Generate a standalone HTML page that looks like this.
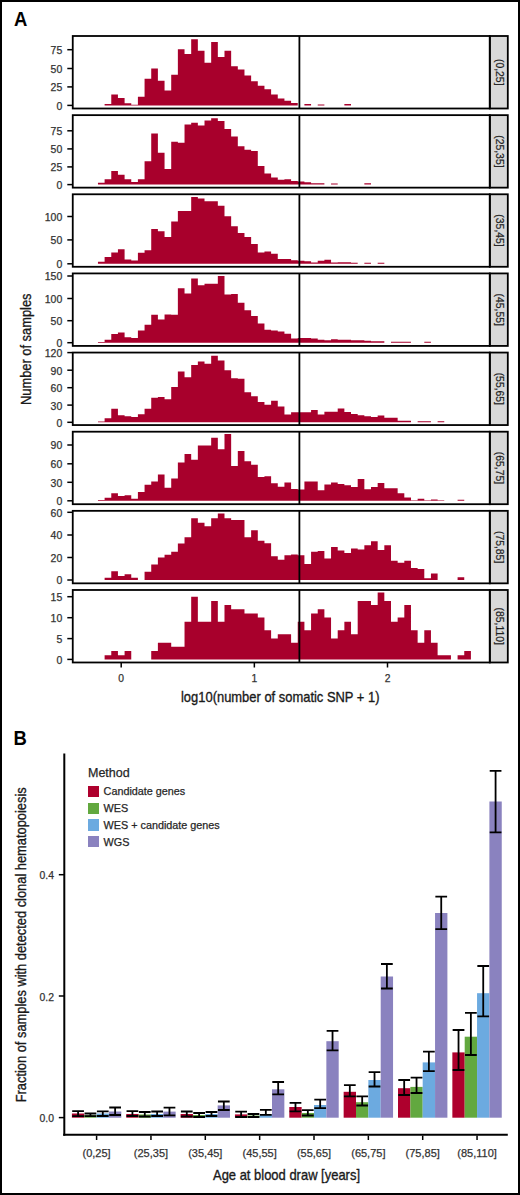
<!DOCTYPE html><html><head><meta charset="utf-8"><style>
html,body{margin:0;padding:0;background:#fff;}
#w{position:relative;width:520px;height:1195px;overflow:hidden;background:#fff;}
svg{position:absolute;left:0;top:0;}
text{font-family:"Liberation Sans",sans-serif;}
text{stroke:#333;stroke-width:0.25px;}
.t{stroke:#1a1a1a;stroke-width:0.35px;}
.nb{stroke:none;}
</style></head><body><div id="w">
<svg width="520" height="1195" viewBox="0 0 520 1195" shape-rendering="crispEdges">
<rect x="1" y="1" width="518" height="1193" fill="none" stroke="#000" stroke-width="2"/>
<text transform="translate(13.9,25.9) scale(0.88,1)" class="nb" font-size="21" font-weight="bold" fill="#000">A</text>
<text transform="translate(13.5,745) scale(0.88,1)" class="nb" font-size="21" font-weight="bold" fill="#000">B</text>
<path d="M104.61 105.40V103.90H111.27V94.50H117.93V98.00H124.59V103.30H131.25V104.70H137.91V96.80H144.57V78.80H151.23V68.50H157.89V80.70H164.55V90.40H171.21V74.70H177.87V49.30H184.53V53.90H191.19V39.20H197.85V50.70H204.51V62.70H211.17V41.90H217.83V56.90H224.49V50.70H231.15V66.20H237.81V69.60H244.47V75.40H251.13V81.20H257.79V85.80H264.45V89.20H271.11V94.50H277.77V98.50H284.43V100.80H291.09V103.00H297.75V105.40ZM304.41 105.40V103.90H311.07V105.40ZM317.73 105.40V104.40H324.39V105.40ZM344.37 105.40V103.90H351.03V105.40Z" fill="#a8002c" shape-rendering="auto"/>
<line x1="299.4" y1="36.00" x2="299.4" y2="108.50" stroke="#000" stroke-width="1.8" shape-rendering="auto"/>
<rect x="489.8" y="36.00" width="18" height="72.50" fill="#d9d9d9" stroke="#000" stroke-width="1.8" shape-rendering="auto"/>
<rect x="72.75" y="36.00" width="417.05" height="72.50" fill="none" stroke="#000" stroke-width="1.8" shape-rendering="auto"/>
<text transform="translate(495.9,72.25) rotate(90)" font-size="10.4" text-anchor="middle" fill="#1a1a1a">(0,25]</text>
<line x1="67.3" y1="105.40" x2="72" y2="105.40" stroke="#000" stroke-width="1.5" shape-rendering="auto"/>
<text x="62.3" y="109.80" font-size="10.5" text-anchor="end" fill="#333333">0</text>
<line x1="67.3" y1="86.90" x2="72" y2="86.90" stroke="#000" stroke-width="1.5" shape-rendering="auto"/>
<text x="62.3" y="91.30" font-size="10.5" text-anchor="end" fill="#333333">25</text>
<line x1="67.3" y1="68.50" x2="72" y2="68.50" stroke="#000" stroke-width="1.5" shape-rendering="auto"/>
<text x="62.3" y="72.90" font-size="10.5" text-anchor="end" fill="#333333">50</text>
<line x1="67.3" y1="49.70" x2="72" y2="49.70" stroke="#000" stroke-width="1.5" shape-rendering="auto"/>
<text x="62.3" y="54.10" font-size="10.5" text-anchor="end" fill="#333333">75</text>
<path d="M97.95 184.60V182.80H104.61V179.30H111.27V171.00H117.93V174.70H124.59V179.30H131.25V182.00H137.91V179.30H144.57V161.30H151.23V133.60H157.89V152.80H164.55V168.90H171.21V141.70H177.87V142.80H184.53V124.40H191.19V122.80H197.85V125.50H204.51V120.50H211.17V118.20H217.83V120.90H224.49V129.00H231.15V136.60H237.81V146.30H244.47V149.80H251.13V150.90H257.79V165.90H264.45V173.50H271.11V177.50H277.77V179.80H284.43V179.30H291.09V180.90H297.75V181.60H304.41V182.30H311.07V183.20H317.73V183.20H324.39V184.60ZM331.05 184.60V183.60H337.71V184.60ZM364.35 184.60V183.20H371.01V184.60Z" fill="#a8002c" shape-rendering="auto"/>
<line x1="299.4" y1="115.14" x2="299.4" y2="187.64" stroke="#000" stroke-width="1.8" shape-rendering="auto"/>
<rect x="489.8" y="115.14" width="18" height="72.50" fill="#d9d9d9" stroke="#000" stroke-width="1.8" shape-rendering="auto"/>
<rect x="72.75" y="115.14" width="417.05" height="72.50" fill="none" stroke="#000" stroke-width="1.8" shape-rendering="auto"/>
<text transform="translate(495.9,151.39) rotate(90)" font-size="10.4" text-anchor="middle" fill="#1a1a1a">(25,35]</text>
<line x1="67.3" y1="184.60" x2="72" y2="184.60" stroke="#000" stroke-width="1.5" shape-rendering="auto"/>
<text x="62.3" y="189.00" font-size="10.5" text-anchor="end" fill="#333333">0</text>
<line x1="67.3" y1="166.90" x2="72" y2="166.90" stroke="#000" stroke-width="1.5" shape-rendering="auto"/>
<text x="62.3" y="171.30" font-size="10.5" text-anchor="end" fill="#333333">25</text>
<line x1="67.3" y1="148.90" x2="72" y2="148.90" stroke="#000" stroke-width="1.5" shape-rendering="auto"/>
<text x="62.3" y="153.30" font-size="10.5" text-anchor="end" fill="#333333">50</text>
<line x1="67.3" y1="130.80" x2="72" y2="130.80" stroke="#000" stroke-width="1.5" shape-rendering="auto"/>
<text x="62.3" y="135.20" font-size="10.5" text-anchor="end" fill="#333333">75</text>
<path d="M97.95 263.80V261.70H104.61V257.00H111.27V252.50H117.93V249.20H124.59V259.40H131.25V260.50H137.91V252.70H144.57V250.20H151.23V228.90H157.89V231.20H164.55V237.00H171.21V221.50H177.87V210.90H184.53V210.90H191.19V197.10H197.85V198.50H204.51V201.20H211.17V201.20H217.83V205.80H224.49V216.20H231.15V226.20H237.81V233.10H244.47V237.00H251.13V243.90H257.79V252.50H264.45V251.50H271.11V253.80H277.77V258.90H284.43V258.90H291.09V260.30H297.75V260.80H304.41V261.20H311.07V262.40H317.73V260.80H324.39V259.80H331.05V262.40H337.71V262.30H344.37V262.30H351.03V262.80H357.69V263.80ZM364.35 263.80V262.80H371.01V263.80ZM377.67 263.80V262.80H384.33V263.80Z" fill="#a8002c" shape-rendering="auto"/>
<line x1="299.4" y1="194.28" x2="299.4" y2="266.78" stroke="#000" stroke-width="1.8" shape-rendering="auto"/>
<rect x="489.8" y="194.28" width="18" height="72.50" fill="#d9d9d9" stroke="#000" stroke-width="1.8" shape-rendering="auto"/>
<rect x="72.75" y="194.28" width="417.05" height="72.50" fill="none" stroke="#000" stroke-width="1.8" shape-rendering="auto"/>
<text transform="translate(495.9,230.53) rotate(90)" font-size="10.4" text-anchor="middle" fill="#1a1a1a">(35,45]</text>
<line x1="67.3" y1="263.80" x2="72" y2="263.80" stroke="#000" stroke-width="1.5" shape-rendering="auto"/>
<text x="62.3" y="268.20" font-size="10.5" text-anchor="end" fill="#333333">0</text>
<line x1="67.3" y1="239.90" x2="72" y2="239.90" stroke="#000" stroke-width="1.5" shape-rendering="auto"/>
<text x="62.3" y="244.30" font-size="10.5" text-anchor="end" fill="#333333">50</text>
<line x1="67.3" y1="216.50" x2="72" y2="216.50" stroke="#000" stroke-width="1.5" shape-rendering="auto"/>
<text x="62.3" y="220.90" font-size="10.5" text-anchor="end" fill="#333333">100</text>
<path d="M97.95 342.70V342.00H104.61V339.80H111.27V334.00H117.93V332.60H124.59V337.20H131.25V337.90H137.91V330.50H144.57V324.80H151.23V314.80H157.89V319.50H164.55V314.40H171.21V314.80H177.87V288.30H184.53V293.40H191.19V278.60H197.85V285.30H204.51V283.70H211.17V283.70H217.83V276.10H224.49V294.50H231.15V294.10H237.81V302.80H244.47V310.20H251.13V316.00H257.79V323.60H264.45V329.80H271.11V330.50H277.77V331.50H284.43V333.80H291.09V338.60H297.75V337.90H304.41V337.90H311.07V338.60H317.73V339.80H324.39V340.20H331.05V339.30H337.71V339.70H344.37V339.70H351.03V340.20H357.69V340.20H364.35V340.70H371.01V341.20H377.67V341.20H384.33V342.70ZM390.99 342.70V341.70H397.65V341.70H404.31V341.70H410.97V342.70ZM424.29 342.70V341.70H430.95V342.70Z" fill="#a8002c" shape-rendering="auto"/>
<line x1="299.4" y1="273.42" x2="299.4" y2="345.92" stroke="#000" stroke-width="1.8" shape-rendering="auto"/>
<rect x="489.8" y="273.42" width="18" height="72.50" fill="#d9d9d9" stroke="#000" stroke-width="1.8" shape-rendering="auto"/>
<rect x="72.75" y="273.42" width="417.05" height="72.50" fill="none" stroke="#000" stroke-width="1.8" shape-rendering="auto"/>
<text transform="translate(495.9,309.67) rotate(90)" font-size="10.4" text-anchor="middle" fill="#1a1a1a">(45,55]</text>
<line x1="67.3" y1="342.70" x2="72" y2="342.70" stroke="#000" stroke-width="1.5" shape-rendering="auto"/>
<text x="62.3" y="347.10" font-size="10.5" text-anchor="end" fill="#333333">0</text>
<line x1="67.3" y1="320.70" x2="72" y2="320.70" stroke="#000" stroke-width="1.5" shape-rendering="auto"/>
<text x="62.3" y="325.10" font-size="10.5" text-anchor="end" fill="#333333">50</text>
<line x1="67.3" y1="298.50" x2="72" y2="298.50" stroke="#000" stroke-width="1.5" shape-rendering="auto"/>
<text x="62.3" y="302.90" font-size="10.5" text-anchor="end" fill="#333333">100</text>
<line x1="67.3" y1="276.00" x2="72" y2="276.00" stroke="#000" stroke-width="1.5" shape-rendering="auto"/>
<text x="62.3" y="280.40" font-size="10.5" text-anchor="end" fill="#333333">150</text>
<path d="M97.95 422.30V421.60H104.61V418.30H111.27V408.80H117.93V415.30H124.59V416.20H131.25V417.00H137.91V414.20H144.57V408.80H151.23V397.80H157.89V397.10H164.55V399.20H171.21V386.90H177.87V371.50H184.53V377.20H191.19V365.00H197.85V361.50H204.51V363.80H211.17V355.80H217.83V360.40H224.49V370.30H231.15V378.20H237.81V378.80H244.47V392.20H251.13V396.20H257.79V401.90H264.45V404.70H271.11V400.80H277.77V406.50H284.43V414.60H291.09V412.30H297.75V412.30H304.41V412.30H311.07V410.00H317.73V414.60H324.39V411.80H331.05V411.80H337.71V408.50H344.37V412.00H351.03V414.00H357.69V415.20H364.35V416.20H371.01V417.00H377.67V415.50H384.33V417.70H390.99V417.70H397.65V420.80H404.31V420.80H410.97V422.30ZM417.63 422.30V421.30H424.29V421.30H430.95V422.30ZM437.61 422.30V421.30H444.27V422.30Z" fill="#a8002c" shape-rendering="auto"/>
<line x1="299.4" y1="352.56" x2="299.4" y2="425.06" stroke="#000" stroke-width="1.8" shape-rendering="auto"/>
<rect x="489.8" y="352.56" width="18" height="72.50" fill="#d9d9d9" stroke="#000" stroke-width="1.8" shape-rendering="auto"/>
<rect x="72.75" y="352.56" width="417.05" height="72.50" fill="none" stroke="#000" stroke-width="1.8" shape-rendering="auto"/>
<text transform="translate(495.9,388.81) rotate(90)" font-size="10.4" text-anchor="middle" fill="#1a1a1a">(55,65]</text>
<line x1="67.3" y1="422.30" x2="72" y2="422.30" stroke="#000" stroke-width="1.5" shape-rendering="auto"/>
<text x="62.3" y="426.70" font-size="10.5" text-anchor="end" fill="#333333">0</text>
<line x1="67.3" y1="405.10" x2="72" y2="405.10" stroke="#000" stroke-width="1.5" shape-rendering="auto"/>
<text x="62.3" y="409.50" font-size="10.5" text-anchor="end" fill="#333333">30</text>
<line x1="67.3" y1="387.70" x2="72" y2="387.70" stroke="#000" stroke-width="1.5" shape-rendering="auto"/>
<text x="62.3" y="392.10" font-size="10.5" text-anchor="end" fill="#333333">60</text>
<line x1="67.3" y1="370.20" x2="72" y2="370.20" stroke="#000" stroke-width="1.5" shape-rendering="auto"/>
<text x="62.3" y="374.60" font-size="10.5" text-anchor="end" fill="#333333">90</text>
<line x1="67.3" y1="352.60" x2="72" y2="352.60" stroke="#000" stroke-width="1.5" shape-rendering="auto"/>
<text x="62.3" y="357.00" font-size="10.5" text-anchor="end" fill="#333333">120</text>
<path d="M97.95 500.80V500.10H104.61V497.80H111.27V493.20H117.93V495.90H124.59V495.20H131.25V498.70H137.91V492.00H144.57V484.80H151.23V481.60H157.89V474.50H164.55V487.80H171.21V478.60H177.87V462.50H184.53V453.90H191.19V459.70H197.85V445.60H204.51V445.60H211.17V437.80H217.83V449.30H224.49V434.10H231.15V465.90H237.81V450.90H244.47V461.30H251.13V464.80H257.79V477.00H264.45V476.30H271.11V483.20H277.77V486.70H284.43V482.50H291.09V489.00H297.75V489.50H304.41V481.60H311.07V481.60H317.73V490.20H324.39V484.40H331.05V482.50H337.71V484.00H344.37V485.20H351.03V487.00H357.69V479.00H364.35V489.20H371.01V487.00H377.67V483.00H384.33V488.30H390.99V488.30H397.65V493.20H404.31V497.50H410.97V500.20H417.63V498.80H424.29V500.20H430.95V499.60H437.61V500.20H444.27V500.80ZM457.59 500.80V499.80H464.25V500.80Z" fill="#a8002c" shape-rendering="auto"/>
<line x1="299.4" y1="431.70" x2="299.4" y2="504.20" stroke="#000" stroke-width="1.8" shape-rendering="auto"/>
<rect x="489.8" y="431.70" width="18" height="72.50" fill="#d9d9d9" stroke="#000" stroke-width="1.8" shape-rendering="auto"/>
<rect x="72.75" y="431.70" width="417.05" height="72.50" fill="none" stroke="#000" stroke-width="1.8" shape-rendering="auto"/>
<text transform="translate(495.9,467.95) rotate(90)" font-size="10.4" text-anchor="middle" fill="#1a1a1a">(65,75]</text>
<line x1="67.3" y1="500.80" x2="72" y2="500.80" stroke="#000" stroke-width="1.5" shape-rendering="auto"/>
<text x="62.3" y="505.20" font-size="10.5" text-anchor="end" fill="#333333">0</text>
<line x1="67.3" y1="482.30" x2="72" y2="482.30" stroke="#000" stroke-width="1.5" shape-rendering="auto"/>
<text x="62.3" y="486.70" font-size="10.5" text-anchor="end" fill="#333333">30</text>
<line x1="67.3" y1="463.80" x2="72" y2="463.80" stroke="#000" stroke-width="1.5" shape-rendering="auto"/>
<text x="62.3" y="468.20" font-size="10.5" text-anchor="end" fill="#333333">60</text>
<line x1="67.3" y1="445.00" x2="72" y2="445.00" stroke="#000" stroke-width="1.5" shape-rendering="auto"/>
<text x="62.3" y="449.40" font-size="10.5" text-anchor="end" fill="#333333">90</text>
<path d="M104.61 580.00V577.80H111.27V571.30H117.93V575.90H124.59V574.30H131.25V577.80H137.91V580.00ZM144.57 580.00V571.80H151.23V564.40H157.89V557.50H164.55V554.70H171.21V551.70H177.87V543.60H184.53V537.20H191.19V518.20H197.85V522.80H204.51V526.30H211.17V518.20H217.83V513.60H224.49V518.20H231.15V520.10H237.81V520.10H244.47V537.20H251.13V530.20H257.79V540.80H264.45V543.20H271.11V556.30H277.77V559.80H284.43V555.20H291.09V554.50H297.75V555.20H304.41V563.90H311.07V551.70H317.73V551.00H324.39V558.60H331.05V547.10H337.71V550.50H344.37V553.00H351.03V548.40H357.69V549.60H364.35V545.30H371.01V541.30H377.67V549.90H384.33V545.30H390.99V560.70H397.65V562.80H404.31V560.70H410.97V568.10H417.63V569.00H424.29V578.20H430.95V573.60H437.61V580.00ZM457.59 580.00V577.30H464.25V580.00Z" fill="#a8002c" shape-rendering="auto"/>
<line x1="299.4" y1="510.84" x2="299.4" y2="583.34" stroke="#000" stroke-width="1.8" shape-rendering="auto"/>
<rect x="489.8" y="510.84" width="18" height="72.50" fill="#d9d9d9" stroke="#000" stroke-width="1.8" shape-rendering="auto"/>
<rect x="72.75" y="510.84" width="417.05" height="72.50" fill="none" stroke="#000" stroke-width="1.8" shape-rendering="auto"/>
<text transform="translate(495.9,547.09) rotate(90)" font-size="10.4" text-anchor="middle" fill="#1a1a1a">(75,85]</text>
<line x1="67.3" y1="580.00" x2="72" y2="580.00" stroke="#000" stroke-width="1.5" shape-rendering="auto"/>
<text x="62.3" y="584.40" font-size="10.5" text-anchor="end" fill="#333333">0</text>
<line x1="67.3" y1="557.50" x2="72" y2="557.50" stroke="#000" stroke-width="1.5" shape-rendering="auto"/>
<text x="62.3" y="561.90" font-size="10.5" text-anchor="end" fill="#333333">20</text>
<line x1="67.3" y1="535.00" x2="72" y2="535.00" stroke="#000" stroke-width="1.5" shape-rendering="auto"/>
<text x="62.3" y="539.40" font-size="10.5" text-anchor="end" fill="#333333">40</text>
<line x1="67.3" y1="512.30" x2="72" y2="512.30" stroke="#000" stroke-width="1.5" shape-rendering="auto"/>
<text x="62.3" y="516.70" font-size="10.5" text-anchor="end" fill="#333333">60</text>
<path d="M104.61 659.40V655.22H111.27V651.04H117.93V655.22H124.59V651.04H131.25V659.40ZM151.23 659.40V651.04H157.89V642.68H164.55V642.68H171.21V646.86H177.87V646.86H184.53V621.78H191.19V596.70H197.85V621.78H204.51V621.78H211.17V600.88H217.83V621.78H224.49V605.06H231.15V609.24H237.81V609.24H244.47V613.42H251.13V613.42H257.79V617.60H264.45V630.14H271.11V638.50H277.77V634.32H284.43V634.32H291.09V642.68H297.75V621.78H304.41V630.14H311.07V613.42H317.73V609.24H324.39V617.60H331.05V638.50H337.71V630.14H344.37V621.78H351.03V634.32H357.69V600.88H364.35V600.88H371.01V605.06H377.67V592.52H384.33V600.88H390.99V621.78H397.65V617.60H404.31V605.06H410.97V630.14H417.63V642.68H424.29V630.14H430.95V642.68H437.61V655.22H444.27V655.22H450.93V659.40ZM457.59 659.40V655.22H464.25V651.04H470.91V659.40Z" fill="#a8002c" shape-rendering="auto"/>
<line x1="299.4" y1="589.98" x2="299.4" y2="662.48" stroke="#000" stroke-width="1.8" shape-rendering="auto"/>
<rect x="489.8" y="589.98" width="18" height="72.50" fill="#d9d9d9" stroke="#000" stroke-width="1.8" shape-rendering="auto"/>
<rect x="72.75" y="589.98" width="417.05" height="72.50" fill="none" stroke="#000" stroke-width="1.8" shape-rendering="auto"/>
<text transform="translate(495.9,626.23) rotate(90)" font-size="10.4" text-anchor="middle" fill="#1a1a1a">(85,110]</text>
<line x1="67.3" y1="659.40" x2="72" y2="659.40" stroke="#000" stroke-width="1.5" shape-rendering="auto"/>
<text x="62.3" y="663.80" font-size="10.5" text-anchor="end" fill="#333333">0</text>
<line x1="67.3" y1="638.60" x2="72" y2="638.60" stroke="#000" stroke-width="1.5" shape-rendering="auto"/>
<text x="62.3" y="643.00" font-size="10.5" text-anchor="end" fill="#333333">5</text>
<line x1="67.3" y1="617.70" x2="72" y2="617.70" stroke="#000" stroke-width="1.5" shape-rendering="auto"/>
<text x="62.3" y="622.10" font-size="10.5" text-anchor="end" fill="#333333">10</text>
<line x1="67.3" y1="596.70" x2="72" y2="596.70" stroke="#000" stroke-width="1.5" shape-rendering="auto"/>
<text x="62.3" y="601.10" font-size="10.5" text-anchor="end" fill="#333333">15</text>
<line x1="121.2" y1="663" x2="121.2" y2="667.5" stroke="#000" stroke-width="1.5" shape-rendering="auto"/>
<text x="121.2" y="681.7" font-size="10.3" text-anchor="middle" fill="#333333">0</text>
<line x1="254.35" y1="663" x2="254.35" y2="667.5" stroke="#000" stroke-width="1.5" shape-rendering="auto"/>
<text x="254.35" y="681.7" font-size="10.3" text-anchor="middle" fill="#333333">1</text>
<line x1="387.5" y1="663" x2="387.5" y2="667.5" stroke="#000" stroke-width="1.5" shape-rendering="auto"/>
<text x="387.5" y="681.7" font-size="10.3" text-anchor="middle" fill="#333333">2</text>
<text class="t" x="181" y="701.8" font-size="14.5" textLength="198.5" lengthAdjust="spacingAndGlyphs" fill="#1a1a1a">log10(number of somatic SNP + 1)</text>
<text class="t" transform="translate(30.8,405) rotate(-90)" font-size="15" textLength="111.5" lengthAdjust="spacingAndGlyphs" fill="#1a1a1a">Number of samples</text>
<line x1="64.3" y1="753.5" x2="64.3" y2="1135.8" stroke="#000" stroke-width="2" shape-rendering="auto"/>
<line x1="63.2" y1="1134.8" x2="507.8" y2="1134.8" stroke="#000" stroke-width="2" shape-rendering="auto"/>
<line x1="58.8" y1="1117.6" x2="64" y2="1117.6" stroke="#000" stroke-width="1.5" shape-rendering="auto"/>
<text x="54.0" y="1122.2" font-size="10.4" text-anchor="end" fill="#333333">0.0</text>
<line x1="58.8" y1="996.0" x2="64" y2="996.0" stroke="#000" stroke-width="1.5" shape-rendering="auto"/>
<text x="54.0" y="1000.6" font-size="10.4" text-anchor="end" fill="#333333">0.2</text>
<line x1="58.8" y1="874.7" x2="64" y2="874.7" stroke="#000" stroke-width="1.5" shape-rendering="auto"/>
<text x="54.0" y="879.3" font-size="10.4" text-anchor="end" fill="#333333">0.4</text>
<line x1="96.60" y1="1135.6" x2="96.60" y2="1140" stroke="#000" stroke-width="1.5" shape-rendering="auto"/>
<text x="96.60" y="1157.3" font-size="11" text-anchor="middle" fill="#333333">(0,25]</text>
<rect x="71.90" y="1113.50" width="12.35" height="4.20" fill="#ae002d" shape-rendering="auto"/>
<rect x="84.25" y="1115.00" width="12.35" height="2.70" fill="#62a83f" shape-rendering="auto"/>
<rect x="96.60" y="1113.50" width="12.35" height="4.20" fill="#6caae0" shape-rendering="auto"/>
<rect x="108.95" y="1111.50" width="12.35" height="6.20" fill="#8a82bf" shape-rendering="auto"/>
<path d="M72.20 1111.10H83.95M78.08 1111.10V1116.10M72.20 1116.10H83.95" stroke="#000" stroke-width="1.8" fill="none" shape-rendering="auto"/>
<path d="M84.55 1113.50H96.30M90.42 1113.50V1116.10M84.55 1116.10H96.30" stroke="#000" stroke-width="1.8" fill="none" shape-rendering="auto"/>
<path d="M96.90 1111.30H108.65M102.78 1111.30V1116.00M96.90 1116.00H108.65" stroke="#000" stroke-width="1.8" fill="none" shape-rendering="auto"/>
<path d="M109.25 1107.50H121.00M115.12 1107.50V1115.00M109.25 1115.00H121.00" stroke="#000" stroke-width="1.8" fill="none" shape-rendering="auto"/>
<line x1="150.95" y1="1135.6" x2="150.95" y2="1140" stroke="#000" stroke-width="1.5" shape-rendering="auto"/>
<text x="150.95" y="1157.3" font-size="11" text-anchor="middle" fill="#333333">(25,35]</text>
<rect x="126.25" y="1114.00" width="12.35" height="3.70" fill="#ae002d" shape-rendering="auto"/>
<rect x="138.60" y="1114.50" width="12.35" height="3.20" fill="#62a83f" shape-rendering="auto"/>
<rect x="150.95" y="1114.00" width="12.35" height="3.70" fill="#6caae0" shape-rendering="auto"/>
<rect x="163.30" y="1111.60" width="12.35" height="6.10" fill="#8a82bf" shape-rendering="auto"/>
<path d="M126.55 1111.20H138.30M132.43 1111.20V1116.00M126.55 1116.00H138.30" stroke="#000" stroke-width="1.8" fill="none" shape-rendering="auto"/>
<path d="M138.90 1112.00H150.65M144.78 1112.00V1116.50M138.90 1116.50H150.65" stroke="#000" stroke-width="1.8" fill="none" shape-rendering="auto"/>
<path d="M151.25 1111.50H163.00M157.12 1111.50V1116.00M151.25 1116.00H163.00" stroke="#000" stroke-width="1.8" fill="none" shape-rendering="auto"/>
<path d="M163.60 1107.70H175.35M169.48 1107.70V1115.30M163.60 1115.30H175.35" stroke="#000" stroke-width="1.8" fill="none" shape-rendering="auto"/>
<line x1="205.30" y1="1135.6" x2="205.30" y2="1140" stroke="#000" stroke-width="1.5" shape-rendering="auto"/>
<text x="205.30" y="1157.3" font-size="11" text-anchor="middle" fill="#333333">(35,45]</text>
<rect x="180.60" y="1114.00" width="12.35" height="3.70" fill="#ae002d" shape-rendering="auto"/>
<rect x="192.95" y="1115.00" width="12.35" height="2.70" fill="#62a83f" shape-rendering="auto"/>
<rect x="205.30" y="1114.00" width="12.35" height="3.70" fill="#6caae0" shape-rendering="auto"/>
<rect x="217.65" y="1105.40" width="12.35" height="12.30" fill="#8a82bf" shape-rendering="auto"/>
<path d="M180.90 1111.50H192.65M186.78 1111.50V1116.50M180.90 1116.50H192.65" stroke="#000" stroke-width="1.8" fill="none" shape-rendering="auto"/>
<path d="M193.25 1113.00H205.00M199.13 1113.00V1117.00M193.25 1117.00H205.00" stroke="#000" stroke-width="1.8" fill="none" shape-rendering="auto"/>
<path d="M205.60 1112.00H217.35M211.48 1112.00V1116.00M205.60 1116.00H217.35" stroke="#000" stroke-width="1.8" fill="none" shape-rendering="auto"/>
<path d="M217.95 1101.50H229.70M223.83 1101.50V1110.00M217.95 1110.00H229.70" stroke="#000" stroke-width="1.8" fill="none" shape-rendering="auto"/>
<line x1="259.65" y1="1135.6" x2="259.65" y2="1140" stroke="#000" stroke-width="1.5" shape-rendering="auto"/>
<text x="259.65" y="1157.3" font-size="11" text-anchor="middle" fill="#333333">(45,55]</text>
<rect x="234.95" y="1114.40" width="12.35" height="3.30" fill="#ae002d" shape-rendering="auto"/>
<rect x="247.30" y="1115.50" width="12.35" height="2.20" fill="#62a83f" shape-rendering="auto"/>
<rect x="259.65" y="1114.40" width="12.35" height="3.30" fill="#6caae0" shape-rendering="auto"/>
<rect x="272.00" y="1089.30" width="12.35" height="28.40" fill="#8a82bf" shape-rendering="auto"/>
<path d="M235.25 1111.70H247.00M241.13 1111.70V1117.00M235.25 1117.00H247.00" stroke="#000" stroke-width="1.8" fill="none" shape-rendering="auto"/>
<path d="M247.60 1114.00H259.35M253.48 1114.00V1117.00M247.60 1117.00H259.35" stroke="#000" stroke-width="1.8" fill="none" shape-rendering="auto"/>
<path d="M259.95 1109.80H271.70M265.83 1109.80V1114.80M259.95 1114.80H271.70" stroke="#000" stroke-width="1.8" fill="none" shape-rendering="auto"/>
<path d="M272.30 1082.00H284.05M278.18 1082.00V1094.30M272.30 1094.30H284.05" stroke="#000" stroke-width="1.8" fill="none" shape-rendering="auto"/>
<line x1="314.00" y1="1135.6" x2="314.00" y2="1140" stroke="#000" stroke-width="1.5" shape-rendering="auto"/>
<text x="314.00" y="1157.3" font-size="11" text-anchor="middle" fill="#333333">(55,65]</text>
<rect x="289.30" y="1107.00" width="12.35" height="10.70" fill="#ae002d" shape-rendering="auto"/>
<rect x="301.65" y="1113.00" width="12.35" height="4.70" fill="#62a83f" shape-rendering="auto"/>
<rect x="314.00" y="1105.00" width="12.35" height="12.70" fill="#6caae0" shape-rendering="auto"/>
<rect x="326.35" y="1041.20" width="12.35" height="76.50" fill="#8a82bf" shape-rendering="auto"/>
<path d="M289.60 1102.80H301.35M295.48 1102.80V1111.30M289.60 1111.30H301.35" stroke="#000" stroke-width="1.8" fill="none" shape-rendering="auto"/>
<path d="M301.95 1110.20H313.70M307.83 1110.20V1115.50M301.95 1115.50H313.70" stroke="#000" stroke-width="1.8" fill="none" shape-rendering="auto"/>
<path d="M314.30 1099.60H326.05M320.18 1099.60V1108.10M314.30 1108.10H326.05" stroke="#000" stroke-width="1.8" fill="none" shape-rendering="auto"/>
<path d="M326.65 1030.80H338.40M332.53 1030.80V1050.40M326.65 1050.40H338.40" stroke="#000" stroke-width="1.8" fill="none" shape-rendering="auto"/>
<line x1="368.35" y1="1135.6" x2="368.35" y2="1140" stroke="#000" stroke-width="1.5" shape-rendering="auto"/>
<text x="368.35" y="1157.3" font-size="11" text-anchor="middle" fill="#333333">(65,75]</text>
<rect x="343.65" y="1091.80" width="12.35" height="25.90" fill="#ae002d" shape-rendering="auto"/>
<rect x="356.00" y="1102.20" width="12.35" height="15.50" fill="#62a83f" shape-rendering="auto"/>
<rect x="368.35" y="1080.00" width="12.35" height="37.70" fill="#6caae0" shape-rendering="auto"/>
<rect x="380.70" y="976.50" width="12.35" height="141.20" fill="#8a82bf" shape-rendering="auto"/>
<path d="M343.95 1085.20H355.70M349.82 1085.20V1096.30M343.95 1096.30H355.70" stroke="#000" stroke-width="1.8" fill="none" shape-rendering="auto"/>
<path d="M356.30 1096.30H368.05M362.18 1096.30V1105.50M356.30 1105.50H368.05" stroke="#000" stroke-width="1.8" fill="none" shape-rendering="auto"/>
<path d="M368.65 1072.20H380.40M374.52 1072.20V1086.50M368.65 1086.50H380.40" stroke="#000" stroke-width="1.8" fill="none" shape-rendering="auto"/>
<path d="M381.00 964.00H392.75M386.88 964.00V988.50M381.00 988.50H392.75" stroke="#000" stroke-width="1.8" fill="none" shape-rendering="auto"/>
<line x1="422.70" y1="1135.6" x2="422.70" y2="1140" stroke="#000" stroke-width="1.5" shape-rendering="auto"/>
<text x="422.70" y="1157.3" font-size="11" text-anchor="middle" fill="#333333">(75,85]</text>
<rect x="398.00" y="1088.20" width="12.35" height="29.50" fill="#ae002d" shape-rendering="auto"/>
<rect x="410.35" y="1086.90" width="12.35" height="30.80" fill="#62a83f" shape-rendering="auto"/>
<rect x="422.70" y="1062.40" width="12.35" height="55.30" fill="#6caae0" shape-rendering="auto"/>
<rect x="435.05" y="913.00" width="12.35" height="204.70" fill="#8a82bf" shape-rendering="auto"/>
<path d="M398.30 1080.00H410.05M404.18 1080.00V1095.00M398.30 1095.00H410.05" stroke="#000" stroke-width="1.8" fill="none" shape-rendering="auto"/>
<path d="M410.65 1077.70H422.40M416.53 1077.70V1093.00M410.65 1093.00H422.40" stroke="#000" stroke-width="1.8" fill="none" shape-rendering="auto"/>
<path d="M423.00 1051.60H434.75M428.88 1051.60V1071.20M423.00 1071.20H434.75" stroke="#000" stroke-width="1.8" fill="none" shape-rendering="auto"/>
<path d="M435.35 896.70H447.10M441.23 896.70V929.10M435.35 929.10H447.10" stroke="#000" stroke-width="1.8" fill="none" shape-rendering="auto"/>
<line x1="477.05" y1="1135.6" x2="477.05" y2="1140" stroke="#000" stroke-width="1.5" shape-rendering="auto"/>
<text x="477.05" y="1157.3" font-size="11" text-anchor="middle" fill="#333333">(85,110]</text>
<rect x="452.35" y="1052.40" width="12.35" height="65.30" fill="#ae002d" shape-rendering="auto"/>
<rect x="464.70" y="1036.70" width="12.35" height="81.00" fill="#62a83f" shape-rendering="auto"/>
<rect x="477.05" y="993.20" width="12.35" height="124.50" fill="#6caae0" shape-rendering="auto"/>
<rect x="489.40" y="801.50" width="12.35" height="316.20" fill="#8a82bf" shape-rendering="auto"/>
<path d="M452.65 1030.00H464.40M458.53 1030.00V1070.00M452.65 1070.00H464.40" stroke="#000" stroke-width="1.8" fill="none" shape-rendering="auto"/>
<path d="M465.00 1012.80H476.75M470.88 1012.80V1055.00M465.00 1055.00H476.75" stroke="#000" stroke-width="1.8" fill="none" shape-rendering="auto"/>
<path d="M477.35 966.00H489.10M483.23 966.00V1016.40M477.35 1016.40H489.10" stroke="#000" stroke-width="1.8" fill="none" shape-rendering="auto"/>
<path d="M489.70 770.80H501.45M495.58 770.80V832.30M489.70 832.30H501.45" stroke="#000" stroke-width="1.8" fill="none" shape-rendering="auto"/>
<text class="t" x="213" y="1179.5" font-size="14.5" textLength="147" lengthAdjust="spacingAndGlyphs" fill="#1a1a1a">Age at blood draw [years]</text>
<text class="t" transform="translate(25.9,1102.3) rotate(-90)" font-size="15" textLength="315" lengthAdjust="spacingAndGlyphs" fill="#1a1a1a">Fraction of samples with detected clonal hematopoiesis</text>
<text x="88" y="777.3" font-size="12.5" fill="#1a1a1a">Method</text>
<rect x="88" y="785.80" width="11" height="11.2" fill="#ae002d"/>
<text x="103.6" y="795.10" font-size="10.8" fill="#1a1a1a">Candidate genes</text>
<rect x="88" y="802.60" width="11" height="11.2" fill="#62a83f"/>
<text x="103.6" y="811.90" font-size="10.8" fill="#1a1a1a">WES</text>
<rect x="88" y="819.40" width="11" height="11.2" fill="#6caae0"/>
<text x="103.6" y="828.70" font-size="10.8" fill="#1a1a1a">WES + candidate genes</text>
<rect x="88" y="836.20" width="11" height="11.2" fill="#8a82bf"/>
<text x="103.6" y="845.50" font-size="10.8" fill="#1a1a1a">WGS</text>
</svg></div></body></html>
